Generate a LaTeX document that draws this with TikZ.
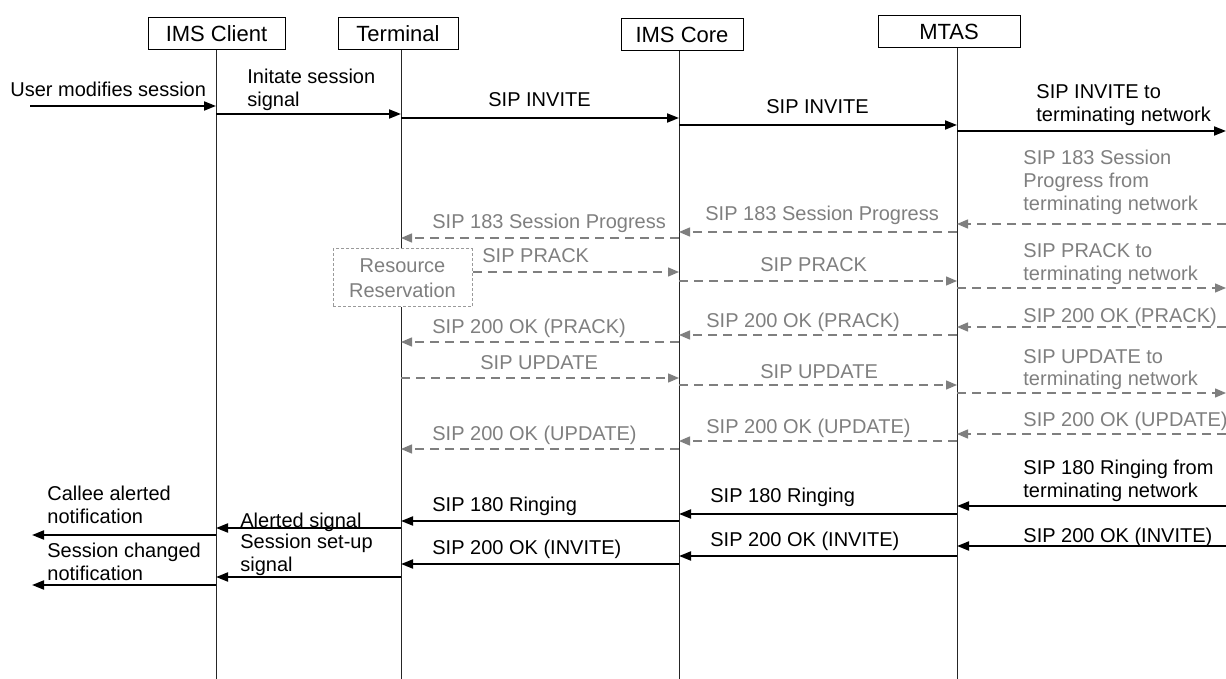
\documentclass[tikz,border=0pt]{standalone}
\usepackage{fontspec}
\setmainfont{Liberation Sans}
\usetikzlibrary{arrows.meta,positioning}
\definecolor{dim}{HTML}{7F7F7F}
\definecolor{rim}{HTML}{9A9A9A}
\tikzset{
  head/.style={draw,line width=0.5pt,minimum height=16pt,inner sep=0pt,font=\fontsize{11}{13}\selectfont},
  life/.style={line width=0.5pt,draw=black!85},
  sig/.style={-{Triangle[length=6pt,width=4.5pt]},line width=0.9pt},
  dsig/.style={-{Triangle[length=5.5pt,width=4.5pt]},line width=0.7pt,draw=dim,dash pattern=on 4.5pt off 3pt},
  lbl/.style={anchor=base west,align=left,inner sep=0pt,font=\fontsize{10}{11.5}\selectfont},
  dlbl/.style={lbl,text=dim},
  resv/.style={draw=rim,fill=white,line width=0.5pt,dash pattern=on 1.5pt off 1pt,align=center,
    minimum width=69.5pt,minimum height=29pt,inner sep=0pt,text=dim,font=\fontsize{10}{12.5}\selectfont},
}
\begin{document}
\begin{tikzpicture}[x=0.5pt,y=-0.5pt]
  \useasboundingbox (0,0) rectangle (1226,679);
  \node[head,minimum width=68.5pt] (client) at (216.5,34) {IMS Client};
  \node[head,minimum width=60pt] (term) at (398,34) {Terminal};
  \node[head,minimum width=61pt] (core) at (682,35) {IMS Core};
  \node[head,minimum width=71pt] (mtas) at (949,32) {MTAS};
  \foreach \n/\x in {client/216,term/401,core/679,mtas/957}{
    \coordinate (\n-l) at (\x,679);
    \draw[life] (\n-l |- \n.south) -- (\n-l);
  }
  \coordinate (user) at (30,0);
  \coordinate (west) at (32,0);
  \coordinate (east) at (1226,0);
  \node[resv] (resv) at (402.5,278) {Resource\\Reservation};

  \draw[sig] (user |- 0,106) -- (client-l |- 0,106);
  \node[lbl] (t1) at (10,97) {User modifies session};
  \draw[sig] (client-l |- 0,114) -- (term-l |- 0,114);
  \node[lbl] (t2) at (247,107) {Initate session\\signal};
  \draw[sig] (term-l |- 0,118) -- (core-l |- 0,118);
  \node[lbl] (t3) at (488,107) {SIP INVITE};
  \draw[sig] (core-l |- 0,125) -- (mtas-l |- 0,125);
  \node[lbl] (t4) at (766,114) {SIP INVITE};
  \draw[sig] (mtas-l |- 0,131) -- (east |- 0,131);
  \node[lbl] (t5) at (1036,122) {SIP INVITE to\\terminating network};

  \draw[dsig] (east |- 0,224) -- (mtas-l |- 0,224);
  \node[dlbl] (g1) at (1023,211) {SIP 183 Session\\Progress from\\terminating network};
  \draw[dsig] (mtas-l |- 0,232) -- (core-l |- 0,232);
  \node[dlbl] (g2) at (705,221) {SIP 183 Session Progress};
  \draw[dsig] (core-l |- 0,238) -- (term-l |- 0,238);
  \node[dlbl] (g3) at (432,229) {SIP 183 Session Progress};
  \draw[dsig] (resv.east |- 0,272) -- (core-l |- 0,272);
  \node[dlbl] (g4) at (482,263) {SIP PRACK};
  \draw[dsig] (core-l |- 0,281) -- (mtas-l |- 0,281);
  \node[dlbl] (g5) at (760,271) {SIP PRACK};
  \draw[dsig] (mtas-l |- 0,288) -- (east |- 0,288);
  \node[dlbl] (g6) at (1023,280) {SIP PRACK to\\terminating network};
  \draw[dsig] (east |- 0,327) -- (mtas-l |- 0,327);
  \node[dlbl] (g7) at (1023,322) {SIP 200 OK (PRACK)};
  \draw[dsig] (mtas-l |- 0,335) -- (core-l |- 0,335);
  \node[dlbl] (g8) at (706,328) {SIP 200 OK (PRACK)};
  \draw[dsig] (core-l |- 0,342) -- (term-l |- 0,342);
  \node[dlbl] (g9) at (432,334) {SIP 200 OK (PRACK)};
  \draw[dsig] (term-l |- 0,378) -- (core-l |- 0,378);
  \node[dlbl] (g10) at (480,369) {SIP UPDATE};
  \draw[dsig] (core-l |- 0,385) -- (mtas-l |- 0,385);
  \node[dlbl] (g11) at (760,378) {SIP UPDATE};
  \draw[dsig] (mtas-l |- 0,393) -- (east |- 0,393);
  \node[dlbl] (g12) at (1023,386) {SIP UPDATE to\\terminating network};
  \draw[dsig] (east |- 0,434) -- (mtas-l |- 0,434);
  \node[dlbl] (g13) at (1023,426) {SIP 200 OK (UPDATE)};
  \draw[dsig] (mtas-l |- 0,441) -- (core-l |- 0,441);
  \node[dlbl] (g14) at (706,433) {SIP 200 OK (UPDATE)};
  \draw[dsig] (core-l |- 0,449) -- (term-l |- 0,449);
  \node[dlbl] (g15) at (432,440) {SIP 200 OK (UPDATE)};

  \draw[sig] (east |- 0,506) -- (mtas-l |- 0,506);
  \node[lbl] (t6) at (1023,497) {SIP 180 Ringing from\\terminating network};
  \draw[sig] (mtas-l |- 0,514) -- (core-l |- 0,514);
  \node[lbl] (t7) at (710,502) {SIP 180 Ringing};
  \draw[sig] (core-l |- 0,521) -- (term-l |- 0,521);
  \node[lbl] (t8) at (432,511) {SIP 180 Ringing};
  \draw[sig] (term-l |- 0,528) -- (client-l |- 0,528);
  \node[lbl] (t9) at (240,527) {Alerted signal};
  \draw[sig] (client-l |- 0,535) -- (west |- 0,535);
  \node[lbl] (t10) at (47,523) {Callee alerted\\notification};
  \draw[sig] (east |- 0,546) -- (mtas-l |- 0,546);
  \node[lbl] (t11) at (1023,542) {SIP 200 OK (INVITE)};
  \draw[sig] (mtas-l |- 0,556) -- (core-l |- 0,556);
  \node[lbl] (t12) at (710,546) {SIP 200 OK (INVITE)};
  \draw[sig] (core-l |- 0,564) -- (term-l |- 0,564);
  \node[lbl] (t13) at (432,554) {SIP 200 OK (INVITE)};
  \draw[sig] (term-l |- 0,577) -- (client-l |- 0,577);
  \node[lbl] (t14) at (240,571) {Session set-up\\signal};
  \draw[sig] (client-l |- 0,585) -- (west |- 0,585);
  \node[lbl] (t15) at (47,580) {Session changed\\notification};
\end{tikzpicture}
\end{document}
